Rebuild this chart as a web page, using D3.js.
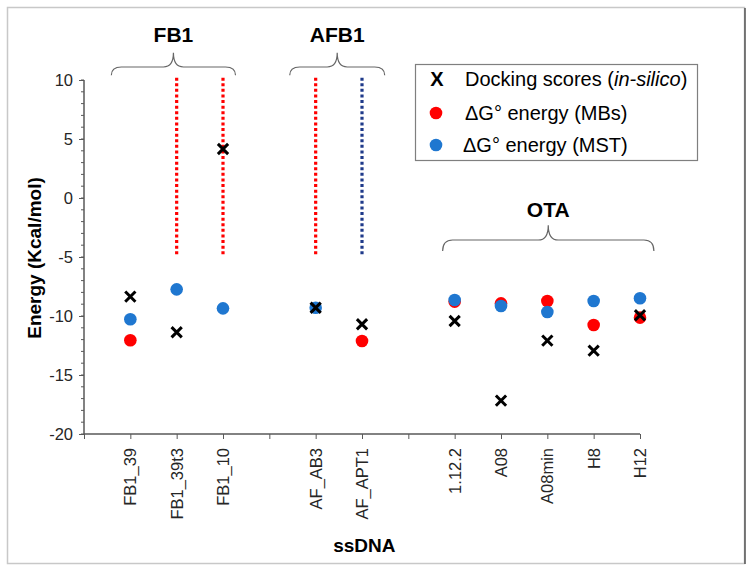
<!DOCTYPE html>
<html><head><meta charset="utf-8">
<script src="https://cdn.jsdelivr.net/npm/d3@7"></script>
<style>
body{margin:0;background:#fff;}
svg text{font-family:Arial,"Liberation Sans",sans-serif;}
</style></head>
<body><svg id="c" width="753" height="569"></svg>
<script>
const categories = ["FB1_39","FB1_39t3","FB1_10","AF_AB3","AF_APT1","1.12.2","A08","A08min","H8","H12"];
const positions  = [1,2,3,5,6,8,9,10,11,12];
const docking = [-8.36,-11.38,4.15,-9.3,-10.7,-10.42,-17.17,-12.09,-12.94,-9.94];
const mbs     = [-12.06,null,null,null,-12.12,-8.78,-8.93,-8.73,-10.76,-10.14];
const mst     = [-10.28,-7.74,-9.35,-9.3,null,-8.64,-9.15,-9.66,-8.73,-8.5];
const yTicks = [-20,-15,-10,-5,0,5,10];
const noBinding = [{cat:"FB1_39t3",c:"#ff0000"},{cat:"FB1_10",c:"#ff0000"},{cat:"AF_AB3",c:"#ff0000"},{cat:"AF_APT1",c:"#1f3a8a"}];
const noBindingRange = [10.2,-4.8];
const groups = [
  {label:"FB1", x0:0.59, x1:3.27, yEnd:10.4, yFlat:11.1, yPeak:12.3, yText:13.2},
  {label:"AFB1",x0:4.44, x1:6.49, yEnd:10.4, yFlat:11.1, yPeak:12.3, yText:13.2},
  {label:"OTA", x0:7.74, x1:12.3, yEnd:-4.5, yFlat:-3.56,yPeak:-2.3, yText:-1.6}
];

const svg = d3.select("#c");
svg.append("rect").attr("x",7.5).attr("y",7.5).attr("width",737).attr("height",556)
  .attr("fill","#fff").attr("stroke","#c8c8c8").attr("stroke-width",1.5);
svg.append("line").attr("x1",745).attr("x2",745).attr("y1",8).attr("y2",564).attr("stroke","#555").attr("stroke-width",1.5);

const x = d3.scaleLinear().domain([0,12]).range([84,640]);
const y = d3.scaleLinear().domain([-20,10]).range([434,80]);
const posOf = c => positions[categories.indexOf(c)];

const axisColor = "#595959";
const gy = svg.append("g").attr("transform","translate(84,0)")
  .call(d3.axisLeft(y).tickValues(yTicks).tickSize(5).tickPadding(6).tickFormat(d=>String(d)));
gy.attr("font-size",null).attr("font-family",null);
gy.append("g").selectAll("line").data(d3.range(-20,11,1)).join("line")
  .attr("x1",-3).attr("x2",0).attr("y1",d=>y(d)).attr("y2",d=>y(d)).attr("stroke",axisColor);
gy.select(".domain").attr("stroke",axisColor).attr("stroke-width",1.5).attr("d",`M0,${y(10)}V${y(-20)}`);
gy.selectAll(".tick line").attr("stroke",axisColor);
gy.selectAll("text").style("font-size","16.5px").attr("fill","#262626");

const gx = svg.append("g").attr("transform",`translate(0,${y(-20)})`)
  .call(d3.axisBottom(x).tickValues(d3.range(0,13)).tickSize(5).tickFormat(""));
gx.select(".domain").attr("stroke",axisColor).attr("stroke-width",1.5).attr("d",`M${x(0)},0H${x(12)}`);
gx.selectAll(".tick line").attr("stroke",axisColor);

svg.append("g").selectAll("text").data(categories).join("text")
  .attr("transform",(d,i)=>`translate(${x(positions[i])+6},448) rotate(-90)`)
  .attr("text-anchor","end").style("font-size","16.5px").attr("fill","#262626").text(d=>d);

svg.append("text").attr("transform","translate(41,258) rotate(-90)").attr("text-anchor","middle")
  .style("font-size","19px").attr("font-weight","bold").attr("fill","#000").text("Energy (Kcal/mol)");
svg.append("text").attr("x",x(6.05)).attr("y",552).attr("text-anchor","middle")
  .style("font-size","19px").attr("font-weight","bold").attr("fill","#000").text("ssDNA");

svg.append("g").selectAll("line").data(noBinding).join("line")
  .attr("x1",d=>x(posOf(d.cat))).attr("x2",d=>x(posOf(d.cat)))
  .attr("y1",y(noBindingRange[0])).attr("y2",y(noBindingRange[1]))
  .attr("stroke",d=>d.c).attr("stroke-width",3.2).attr("stroke-dasharray","3,2.6");

const bg = svg.append("g");
groups.forEach(g=>{
  const x0=x(g.x0), x1=x(g.x1), xm=(x0+x1)/2, ye=y(g.yEnd), yf=y(g.yFlat), yp=y(g.yPeak);
  const r=10;
  const p = `M${x0},${ye} Q${x0},${yf} ${x0+r},${yf} L${xm-r},${yf} Q${xm},${yf} ${xm},${yp} Q${xm},${yf} ${xm+r},${yf} L${x1-r},${yf} Q${x1},${yf} ${x1},${ye}`;
  bg.append("path").attr("d",p).attr("fill","none").attr("stroke","#666").attr("stroke-width",1.2);
  bg.append("text").attr("x",xm).attr("y",y(g.yText)).attr("text-anchor","middle")
    .style("font-size","21px").attr("font-weight","bold").attr("fill","#000").text(g.label);
});

const pts = svg.append("g");
const idx = d3.range(categories.length);
pts.selectAll(".mbs").data(idx.filter(i=>mbs[i]!=null)).join("circle")
  .attr("cx",i=>x(positions[i])).attr("cy",i=>y(mbs[i])).attr("r",6.3).attr("fill","#ff0000");
pts.selectAll(".mst").data(idx.filter(i=>mst[i]!=null)).join("circle")
  .attr("cx",i=>x(positions[i])).attr("cy",i=>y(mst[i])).attr("r",6.3).attr("fill","#1f77d0");
const xs = d3.symbol().type(d3.symbolX).size(70);
pts.selectAll(".dock").data(idx).join("path")
  .attr("transform",i=>`translate(${x(positions[i])},${y(docking[i])})`)
  .attr("d",xs).attr("fill","none").attr("stroke","#000").attr("stroke-width",3);

const lg = svg.append("g");
lg.append("rect").attr("x",415.5).attr("y",64.5).attr("width",282).attr("height",96)
  .attr("fill","#fff").attr("stroke","#7f7f7f").attr("stroke-width",1.2);
lg.append("text").attr("x",437).attr("y",86).attr("text-anchor","middle").style("font-size","20px")
  .attr("font-weight","bold").text("X");
const t1 = lg.append("text").attr("x",465).attr("y",86).style("font-size","20px").attr("fill","#000");
t1.append("tspan").text("Docking scores (");
t1.append("tspan").attr("font-style","italic").text("in-silico");
t1.append("tspan").text(")");
lg.append("circle").attr("cx",436).attr("cy",113).attr("r",6.3).attr("fill","#ff0000");
lg.append("text").attr("x",465).attr("y",120).style("font-size","20px").attr("fill","#000").text("ΔG° energy (MBs)");
lg.append("circle").attr("cx",436).attr("cy",145).attr("r",6.3).attr("fill","#1f77d0");
lg.append("text").attr("x",463).attr("y",152).style("font-size","20px").attr("fill","#000").text("ΔG° energy (MST)");
</script></body></html>
